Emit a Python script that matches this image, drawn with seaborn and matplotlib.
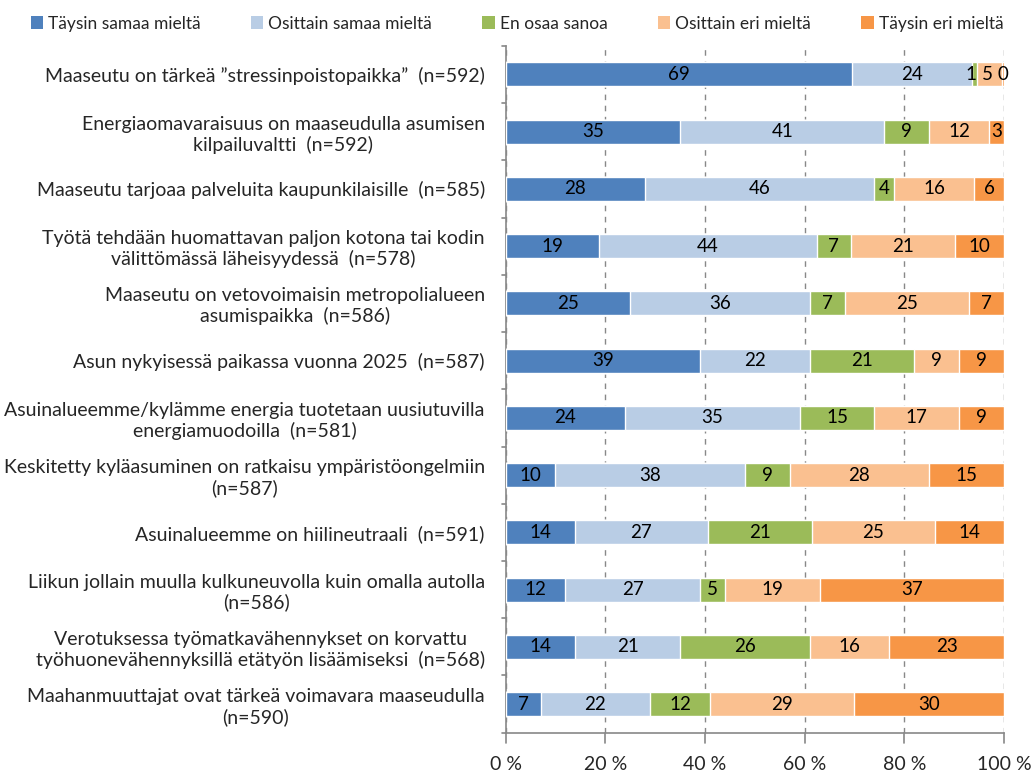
import numpy as np
import pandas as pd
import matplotlib
matplotlib.use("Agg")
import matplotlib.pyplot as plt
import seaborn as sns
from matplotlib.patches import Patch

categories = [
    "Maaseutu on tärkeä ”stressinpoistopaikka”  (n=592)",
    "Energiaomavaraisuus on maaseudulla asumisen\nkilpailuvaltti  (n=592)",
    "Maaseutu tarjoaa palveluita kaupunkilaisille  (n=585)",
    "Työtä tehdään huomattavan paljon kotona tai kodin\nvälittömässä läheisyydessä  (n=578)",
    "Maaseutu on vetovoimaisin metropolialueen\nasumispaikka  (n=586)",
    "Asun nykyisessä paikassa vuonna 2025  (n=587)",
    "Asuinalueemme/kylämme energia tuotetaan uusiutuvilla\nenergiamuodoilla  (n=581)",
    "Keskitetty kyläasuminen on ratkaisu ympäristöongelmiin\n(n=587)",
    "Asuinalueemme on hiilineutraali  (n=591)",
    "Liikun jollain muulla kulkuneuvolla kuin omalla autolla\n(n=586)",
    "Verotuksessa työmatkavähennykset on korvattu\ntyöhuonevähennyksillä etätyön lisäämiseksi  (n=568)",
    "Maahanmuuttajat ovat tärkeä voimavara maaseudulla\n(n=590)",
]
series_names = ["Täysin samaa mieltä", "Osittain samaa mieltä", "En osaa sanoa",
                "Osittain eri mieltä", "Täysin eri mieltä"]
tays_samaa = [69, 35, 28, 19, 25, 39, 24, 10, 14, 12, 14, 7]
osit_samaa = [24, 41, 46, 44, 36, 22, 35, 38, 27, 27, 21, 22]
en_osaa = [1, 9, 4, 7, 7, 21, 15, 9, 21, 5, 26, 12]
osit_eri = [5, 12, 16, 21, 25, 9, 17, 28, 25, 19, 16, 29]
tays_eri = [0.4, 3, 6, 10, 7, 9, 9, 15, 14, 37, 23, 30]
colors = ["#4F81BD", "#B9CDE5", "#9BBB59", "#FAC090", "#F79646"]

vals = np.array([tays_samaa, osit_samaa, en_osaa, osit_eri, tays_eri], dtype=float)
pct = vals / vals.sum(axis=0) * 100
cum = np.cumsum(pct, axis=0)

sns.set_style("white")
plt.rcParams["font.family"] = ["Lato", "DejaVu Sans"]

fig = plt.figure(figsize=(10.34, 7.77), dpi=100)
ax = fig.add_axes([0.489, 0.057, 0.482, 0.884])

for i in range(4, -1, -1):
    df = pd.DataFrame({"cat": categories, "val": cum[i]})
    sns.barplot(data=df, x="val", y="cat", orient="h", color=colors[i],
                width=0.42, saturation=1, ax=ax, zorder=3)

for i in range(5):
    for j in range(len(categories)):
        v = vals[i, j]
        txt = str(int(round(v)))
        x = cum[i, j] - pct[i, j] / 2
        if i == 4 and pct[i, j] < 1.5:
            x = 99.8
        if i == 3 and j == 0:
            x = 96.6
        if i == 2 and j == 0:
            x = 93.4
        ax.text(x, j, txt, ha="center", va="center", fontsize=13.5,
                color="#000000", zorder=5)

ax.set_xlim(0, 100)
ax.set_ylim(len(categories) - 0.5, -0.5)
ax.set_xticks([0, 20, 40, 60, 80, 100])
ax.set_xticklabels(["0 %", "20 %", "40 %", "60 %", "80 %", "100 %"], fontsize=14)
ax.set_xlabel("")
ax.set_ylabel("")
ax.tick_params(axis="y", labelsize=14, length=0, pad=15)
ax.tick_params(axis="x", length=0, pad=17)
for lab in ax.get_yticklabels():
    lab.set_horizontalalignment("right")
    lab.set_multialignment("center")
ax.grid(axis="x", color="#888888", linestyle=(0, (4, 4)), linewidth=1, zorder=0)
ax.set_axisbelow(True)
for s in ["top", "right"]:
    ax.spines[s].set_visible(False)
for s in ["left", "bottom"]:
    ax.spines[s].set_color("#888888")
    ax.spines[s].set_linewidth(1.2)
for xt in [0, 20, 40, 60, 80, 100]:
    ax.plot([xt, xt], [11.5, 11.68], color="#888888", lw=1.2, clip_on=False, zorder=4)
for yb in np.arange(-0.5, 12, 1):
    ax.plot([-0.8, 0], [yb, yb], color="#888888", lw=1.2, clip_on=False, zorder=4)

handles = [Patch(facecolor=c, edgecolor="none") for c in colors]
fig.legend(handles, series_names, loc="upper center", bbox_to_anchor=(0.5, 1.0),
           ncol=5, frameon=False, fontsize=12.5, handlelength=0.7, handleheight=0.7,
           columnspacing=2.9, handletextpad=0.3)

fig.savefig("out.png", dpi=100)
